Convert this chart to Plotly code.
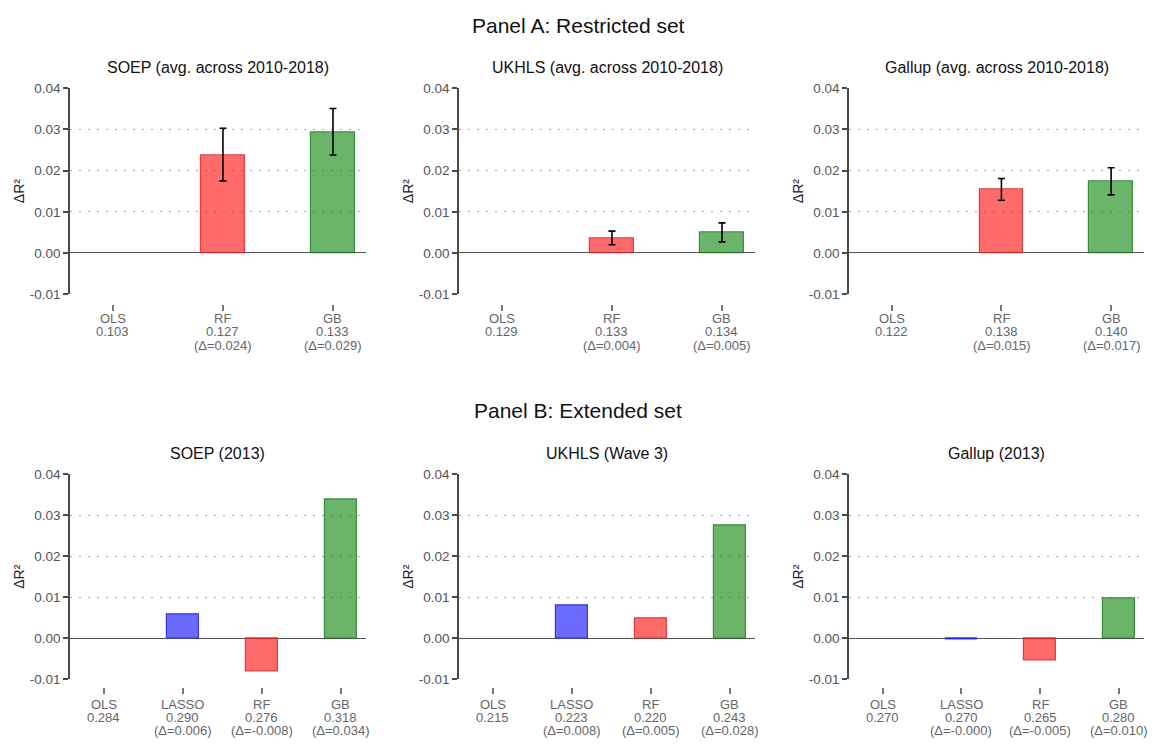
import plotly.graph_objects as go

# ---------------- data ----------------
soep_a_models = ["OLS", "RF", "GB"]
soep_a_r2 = ["0.103", "0.127", "0.133"]
soep_a_dlab = ["", "0.024", "0.029"]
soep_a_delta = [0.0, 0.0238, 0.0293]
soep_a_lo = [0.0, 0.0175, 0.0238]
soep_a_hi = [0.0, 0.0303, 0.0351]

ukhls_a_models = ["OLS", "RF", "GB"]
ukhls_a_r2 = ["0.129", "0.133", "0.134"]
ukhls_a_dlab = ["", "0.004", "0.005"]
ukhls_a_delta = [0.0, 0.0036, 0.0050]
ukhls_a_lo = [0.0, 0.0020, 0.0027]
ukhls_a_hi = [0.0, 0.0053, 0.0073]

gallup_a_models = ["OLS", "RF", "GB"]
gallup_a_r2 = ["0.122", "0.138", "0.140"]
gallup_a_dlab = ["", "0.015", "0.017"]
gallup_a_delta = [0.0, 0.0155, 0.0173]
gallup_a_lo = [0.0, 0.0128, 0.0141]
gallup_a_hi = [0.0, 0.0181, 0.0207]

soep_b_models = ["OLS", "LASSO", "RF", "GB"]
soep_b_r2 = ["0.284", "0.290", "0.276", "0.318"]
soep_b_dlab = ["", "0.006", "-0.008", "0.034"]
soep_b_delta = [0.0, 0.0058, -0.0081, 0.0340]

ukhls_b_models = ["OLS", "LASSO", "RF", "GB"]
ukhls_b_r2 = ["0.215", "0.223", "0.220", "0.243"]
ukhls_b_dlab = ["", "0.008", "0.005", "0.028"]
ukhls_b_delta = [0.0, 0.0080, 0.0048, 0.0275]

gallup_b_models = ["OLS", "LASSO", "RF", "GB"]
gallup_b_r2 = ["0.270", "0.270", "0.265", "0.280"]
gallup_b_dlab = ["", "-0.000", "-0.005", "0.010"]
gallup_b_delta = [0.0, -0.0002, -0.0054, 0.0097]

titles_a = ["SOEP (avg. across 2010-2018)", "UKHLS (avg. across 2010-2018)", "Gallup (avg. across 2010-2018)"]
titles_b = ["SOEP (2013)", "UKHLS (Wave 3)", "Gallup (2013)"]
y_ticks = [-0.01, 0.0, 0.01, 0.02, 0.03, 0.04]
y_ticklabels = ["-0.01", "0.00", "0.01", "0.02", "0.03", "0.04"]

# ---------------- styling ----------------
W, H = 1160, 744
FONT = "Helvetica, Liberation Sans, Arial, sans-serif"
FILL = {"LASSO": "rgba(0,0,255,0.58)", "RF": "rgba(255,0,0,0.58)", "GB": "rgba(0,128,0,0.58)"}
EDGE = {"LASSO": "rgba(40,40,230,0.9)", "RF": "rgba(225,40,40,0.85)", "GB": "rgba(30,120,30,0.8)"}

col_px = [(70, 366), (459, 755), (849, 1144)]
row_px = {"A": (83, 293, 303, (318, 331.5, 345)),
          "B": (477, 686, 694, (712, 725, 738))}

fig = go.Figure()
annotations = []

panels = [
    ("A", 0, soep_a_models, soep_a_r2, soep_a_dlab, soep_a_delta, soep_a_lo, soep_a_hi, titles_a[0]),
    ("A", 1, ukhls_a_models, ukhls_a_r2, ukhls_a_dlab, ukhls_a_delta, ukhls_a_lo, ukhls_a_hi, titles_a[1]),
    ("A", 2, gallup_a_models, gallup_a_r2, gallup_a_dlab, gallup_a_delta, gallup_a_lo, gallup_a_hi, titles_a[2]),
    ("B", 0, soep_b_models, soep_b_r2, soep_b_dlab, soep_b_delta, None, None, titles_b[0]),
    ("B", 1, ukhls_b_models, ukhls_b_r2, ukhls_b_dlab, ukhls_b_delta, None, None, titles_b[1]),
    ("B", 2, gallup_b_models, gallup_b_r2, gallup_b_dlab, gallup_b_delta, None, None, titles_b[2]),
]

for i, (row, col, models, r2, dlab, delta, lo, hi, title) in enumerate(panels):
    n = i + 1
    xa = "x" if n == 1 else f"x{n}"
    ya = "y" if n == 1 else f"y{n}"
    xkey = "xaxis" if n == 1 else f"xaxis{n}"
    ykey = "yaxis" if n == 1 else f"yaxis{n}"
    x0, x1 = col_px[col]
    top, bot, tickpos, lines = row_px[row]
    pos = list(range(len(models)))

    for j, m in enumerate(models):
        if m == "OLS":
            continue
        err = None
        if lo is not None:
            err = dict(type="data", symmetric=False,
                       array=[hi[j] - delta[j]], arrayminus=[delta[j] - lo[j]],
                       color="black", thickness=1.6, width=3.5)
        fig.add_trace(go.Bar(
            x=[pos[j]], y=[delta[j]], width=0.4, xaxis=xa, yaxis=ya,
            marker=dict(color=FILL[m], line=dict(color=EDGE[m], width=1.2)),
            error_y=err, showlegend=False, hoverinfo="skip"))

    xr = [-0.39, 2.3] if len(models) == 3 else [-0.43, 3.32]

    # x axis drawn detached below the plot (Stata style): only short ticks, labels via annotations
    fig.layout[xkey] = dict(
        domain=[x0 / W, x1 / W], range=xr, anchor="free", position=1 - tickpos / H,
        tickmode="array", tickvals=pos, ticktext=[" "] * len(pos), showticklabels=True,
        ticks="outside", ticklen=6, tickcolor="#777777", tickwidth=2,
        showline=False, showgrid=False, zeroline=False, fixedrange=True)
    fig.layout[ykey] = dict(
        domain=[1 - bot / H, 1 - top / H], range=[-0.01, 0.04], anchor=xa,
        tickvals=y_ticks, ticktext=y_ticklabels,
        showline=True, linecolor="#4a4a4a", linewidth=1.6,
        ticks="outside", ticklen=5, tickcolor="#4a4a4a", tickwidth=1.5,
        showgrid=True, gridcolor="#a8a8a8", gridwidth=1, griddash="2px,7px",
        zeroline=True, zerolinecolor="#555555", zerolinewidth=1.3,
        tickfont=dict(family=FONT, size=13.5, color="#555555"), fixedrange=True)

    for j, m in enumerate(models):
        texts = [m, r2[j]] + ([f"(Δ={dlab[j]})"] if dlab[j] else [])
        for t, ly in zip(texts, lines):
            annotations.append(dict(
                text=t, x=pos[j], y=1 - ly / H, xref=xa, yref="paper",
                xanchor="center", yanchor="middle", showarrow=False,
                font=dict(family=FONT, size=13, color="#666666")))

    annotations.append(dict(
        text=title, x=(x0 + x1) / 2 / W, y=1 - (top - 21) / H, xref="paper", yref="paper",
        xanchor="center", yanchor="middle", showarrow=False,
        font=dict(family=FONT, size=16, color="#111111")))
    annotations.append(dict(
        text="ΔR²", x=(x0 - 51) / W, y=1 - (top + bot) / 2 / H, xref="paper", yref="paper",
        xanchor="center", yanchor="middle", showarrow=False, textangle=-90,
        font=dict(family=FONT, size=14, color="#222222")))

annotations.append(dict(text="Panel A: Restricted set", x=578 / W, y=1 - 19 / H, xref="paper", yref="paper",
                        xanchor="center", yanchor="middle", showarrow=False,
                        font=dict(family=FONT, size=21, color="#111111")))
annotations.append(dict(text="Panel B: Extended set", x=578 / W, y=1 - 412 / H, xref="paper", yref="paper",
                        xanchor="center", yanchor="middle", showarrow=False,
                        font=dict(family=FONT, size=21, color="#111111")))

fig.update_layout(
    width=W, height=H, margin=dict(l=0, r=0, t=0, b=0),
    paper_bgcolor="white", plot_bgcolor="white",
    annotations=annotations, showlegend=False, bargap=0,
    font=dict(family=FONT))

fig.write_html("out.html", config={"displayModeBar": False})
